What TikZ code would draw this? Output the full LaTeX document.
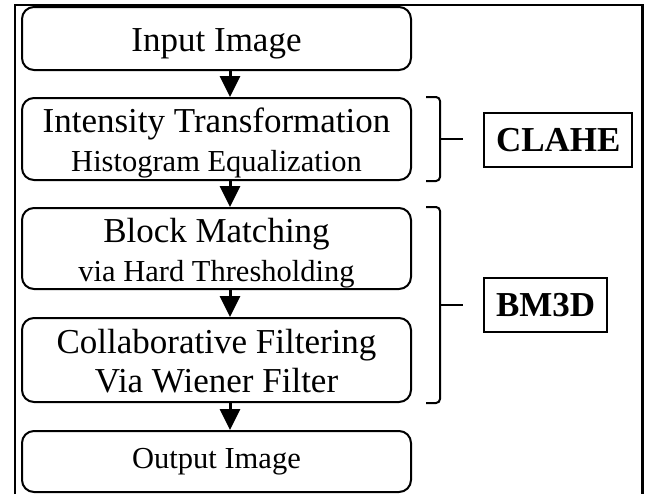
\documentclass[tikz,border=0pt]{standalone}
\usepackage{fontspec}
\setmainfont{Liberation Serif}
\usetikzlibrary{arrows.meta,calc}

\tikzset{
  stage/.style={draw, line width=1pt, rounded corners=6pt, minimum width=194.5pt,
    align=center, inner sep=0pt, font=\fontsize{17.5}{19.5}\selectfont},
  flow/.style={line width=1.5pt, -{Triangle[width=10pt,length=10.5pt]}},
  brk/.style={line width=1pt, rounded corners=2pt},
  tag/.style={draw, line width=1pt, anchor=west, inner xsep=6pt, minimum height=27pt,
    font=\fontsize{17.5}{20}\selectfont\bfseries},
}
\newcommand{\subline}[1]{{\fontsize{15.25}{19.5}\selectfont #1}}
\newcommand{\upstrut}{\rule{0pt}{17pt}}
\newcommand{\lowstrut}{\rule[-4pt]{0pt}{4pt}}

\begin{document}
\begin{tikzpicture}[x=0.5pt, y=-0.5pt]
			%%%%% START %%%%%
			\useasboundingbox (0,0) rectangle (647,494);
			\draw[line width=1.25pt] (15,494) -- (15,5) -- (642.5,5) -- (642.5,494);
			
			\node[stage, minimum height=31.5pt] (inp) at (216.5,38.5) {\upstrut Input Image\lowstrut};
			\node[stage, minimum height=41pt] (it) at (216.5,139) {\upstrut Intensity Transformation\\\subline{Histogram Equalization}\lowstrut};
			\node[stage, minimum height=40.5pt] (bm) at (216.5,248.5) {\upstrut Block Matching\\\subline{via Hard Thresholding}\lowstrut};
			\node[stage, minimum height=42pt] (cf) at (216.5,360) {\upstrut Collaborative Filtering\\Via Wiener Filter\lowstrut};
			\node[stage, minimum height=30.5pt, font=\fontsize{15.25}{18}\selectfont] (out) at (216.5,461.5) {Output Image};
			
			\coordinate (ax) at (230,0);
			\draw[flow] (inp.south -| ax) -- (it.north -| ax);
			\draw[flow] (it.south -| ax) -- (bm.north -| ax);
			\draw[flow] (bm.south -| ax) -- (cf.north -| ax);
			\draw[flow] (cf.south -| ax) -- (out.north -| ax);
			
			\coordinate (bl) at (426,0);
			\coordinate (br) at (440,0);
			\coordinate (bt) at (463,0);
			\coordinate (mid) at ($(bm.north)!0.5!(cf.south)$);
			
			\draw[brk] (it.north -| bl) -- (it.north -| br) -- (it.south -| br) -- (it.south -| bl);
			\draw[brk] (it.east -| br) -- (it.east -| bt);
			\draw[brk] (bm.north -| bl) -- (bm.north -| br) -- (cf.south -| br) -- (cf.south -| bl);
			\draw[brk] (mid -| br) -- (mid -| bt);
			
			\node[tag] (clahe) at (483,140) {CLAHE};
			\node[tag] (bmtd) at (483,305) {BM3D};
			%%%%% END %%%%%
\end{tikzpicture}
\end{document}
